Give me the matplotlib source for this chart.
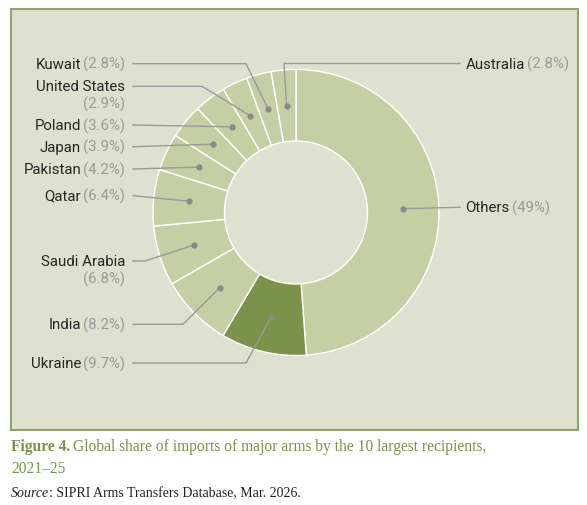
import matplotlib
matplotlib.use('Agg')
import numpy as np
import matplotlib.pyplot as plt
from matplotlib.patches import Rectangle

# data, clockwise from 12 o'clock
names = ['Others', 'Ukraine', 'India', 'Saudi Arabia', 'Qatar', 'Pakistan',
         'Japan', 'Poland', 'United States', 'Kuwait', 'Australia']
shares = [49, 9.7, 8.2, 6.8, 6.4, 4.2, 3.9, 3.6, 2.9, 2.8, 2.8]
pct_labels = ['(49%)', '(9.7%)', '(8.2%)', '(6.8%)', '(6.4%)', '(4.2%)',
              '(3.9%)', '(3.6%)', '(2.9%)', '(2.8%)', '(2.8%)']
highlight = 'Ukraine'

title_bold = 'Figure 4.'
title_rest = 'Global share of imports of major arms by the 10 largest recipients,'
title_line2 = '2021\u201325'
source_italic = 'Source'
source_rest = ': SIPRI Arms Transfers Database, Mar. 2026.'

W, H = 587, 506
bg = '#dfe1d0'
light = '#c6cfa4'
dark = '#7a9249'
green_txt = '#7a9249'
line_col = '#9a9a9a'
name_col = '#262626'
pct_col = '#9a9a9a'

plt.rcParams['font.family'] = ['Roboto', 'DejaVu Sans']

fig = plt.figure(figsize=(W / 100, H / 100), dpi=100)
ax = fig.add_axes([0, 0, 1, 1])

cx, cy, R = 296, H - 213.5, 143

ax.add_patch(Rectangle((11, H - 431), 567, 421, facecolor=bg, edgecolor='#8fa566', lw=1.5, zorder=0))

colors = [dark if n == highlight else light for n in names]
wedges, _ = ax.pie(shares, colors=colors, startangle=90, counterclock=False,
                   radius=R, center=(cx, cy),
                   wedgeprops=dict(width=R / 2, edgecolor='white', linewidth=1))
ax.set_xlim(0, W)
ax.set_ylim(0, H)
ax.set_aspect('equal')
ax.axis('off')

# label layout: name -> (side, y of first line, elbow x, two lines?)
layout = {
    'Kuwait': ('L', 64.7, 246, False),
    'United States': ('L', 87.3, 202, True),
    'Poland': ('L', 126, 133, False),
    'Japan': ('L', 147.7, 133, False),
    'Pakistan': ('L', 170, 133, False),
    'Qatar': ('L', 196.7, 133, False),
    'Saudi Arabia': ('L', 262, 145, True),
    'India': ('L', 325.3, 183, False),
    'Ukraine': ('L', 364, 246, False),
    'Australia': ('R', 64.5, 284, False),
    'Others': ('R', 208.3, 460, False),
}

fig.canvas.draw()
renderer = fig.canvas.get_renderer()
fs = 10.8

for w, n, p in zip(wedges, names, pct_labels):
    ang = np.deg2rad((w.theta1 + w.theta2) / 2)
    dx = cx + 0.75 * R * np.cos(ang)
    dy = cy + 0.75 * R * np.sin(ang)
    side, ly, ex, two = layout[n]
    ly = H - ly
    ax.plot(dx, dy, 'o', ms=3.5, color='#8a8a8a', zorder=5)
    if side == 'L':
        ax.plot([133, ex, dx], [ly, ly, dy], color=line_col, lw=1, zorder=4)
        if two:
            ax.text(125, ly, n, ha='right', va='center', fontsize=fs, color=name_col)
            ax.text(125, ly - 17.5, p, ha='right', va='center', fontsize=fs, color=pct_col)
        else:
            t = ax.text(125, ly, p, ha='right', va='center', fontsize=fs, color=pct_col)
            wp = t.get_window_extent(renderer).width
            ax.text(125 - wp - 2, ly, n, ha='right', va='center', fontsize=fs, color=name_col)
    else:
        if n == 'Australia':
            ax.plot([460, ex, dx], [ly, ly, dy], color=line_col, lw=1, zorder=4)
        else:
            ax.plot([dx, 460], [dy, ly], color=line_col, lw=1, zorder=4)
        t = ax.text(465.5, ly, n, ha='left', va='center', fontsize=fs, color=name_col)
        wn = t.get_window_extent(renderer).width
        ax.text(465.5 + wn + 2, ly, p, ha='left', va='center', fontsize=fs, color=pct_col)

# caption
serif = ['Liberation Serif', 'DejaVu Serif']
cfs = 11.2
t = ax.text(11, H - 447, title_bold, ha='left', va='center', fontsize=cfs,
            fontweight='bold', color=green_txt, family=serif)
wb = t.get_window_extent(renderer).width
ax.text(11 + wb + 3, H - 447, title_rest, ha='left', va='center', fontsize=cfs,
        color=green_txt, family=serif)
ax.text(11, H - 469, title_line2, ha='left', va='center', fontsize=cfs,
        color=green_txt, family=serif)
t = ax.text(11, H - 494, source_italic, ha='left', va='center', fontsize=10,
            style='italic', color='#222222', family=serif)
ws = t.get_window_extent(renderer).width
ax.text(11 + ws, H - 494, source_rest, ha='left', va='center', fontsize=10,
        color='#222222', family=serif)

fig.savefig('out.png', dpi=100, facecolor='white')
